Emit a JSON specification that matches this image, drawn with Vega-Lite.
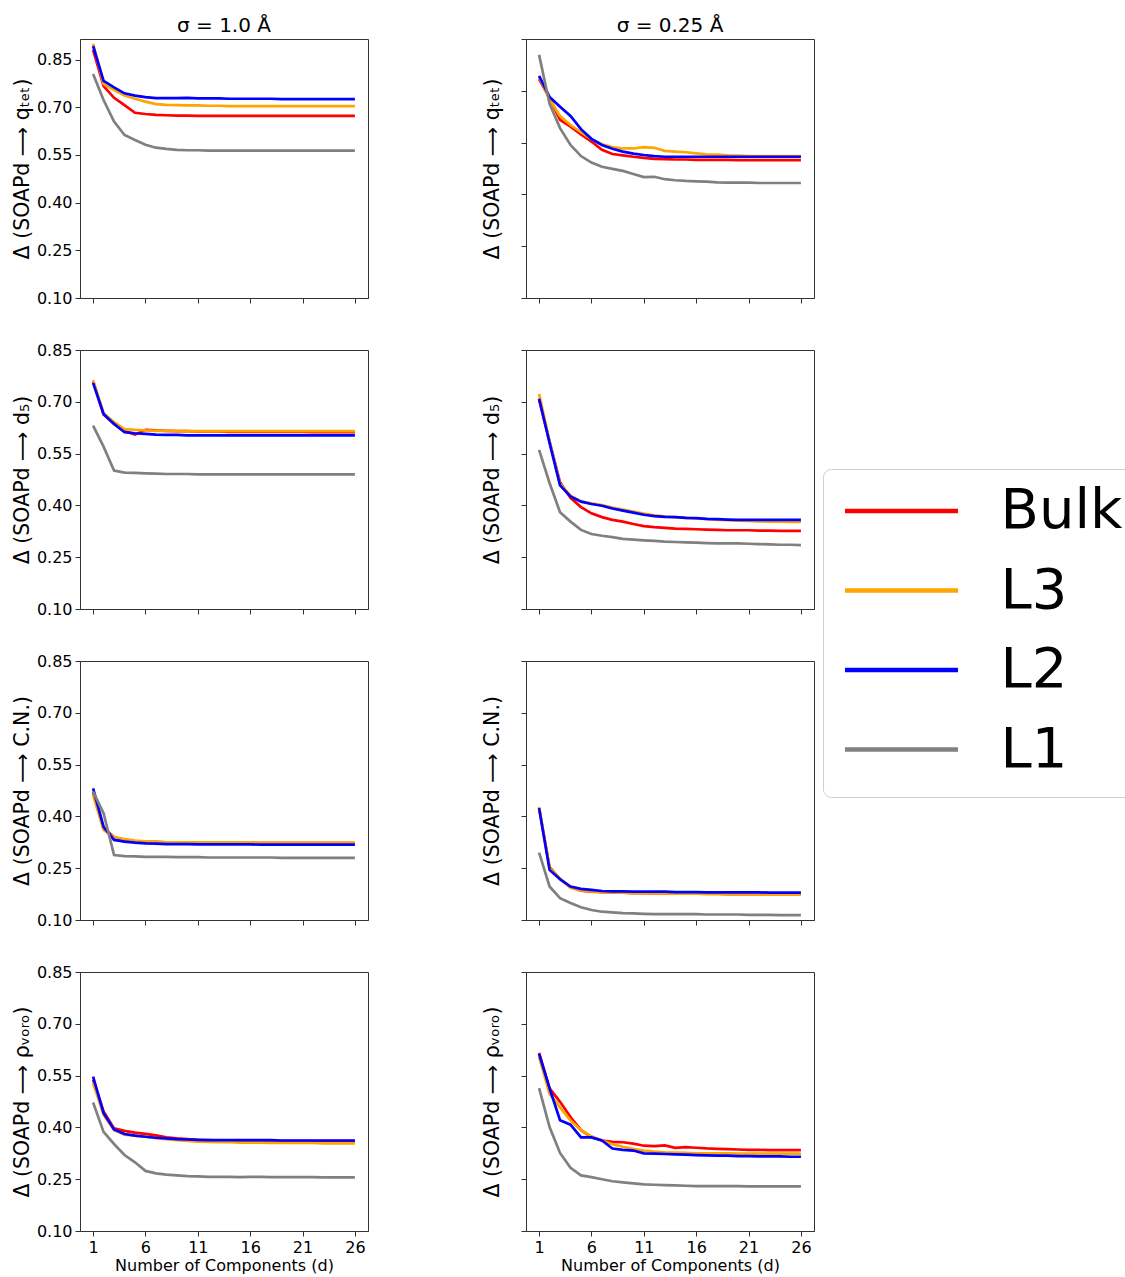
{
"$schema":"https://vega.github.io/schema/vega-lite/v6.json",
"padding":{"left":11,"top":15,"right":0,"bottom":5},
"background":"white",
"config":{
 "font":"DejaVu Sans",
 "view":{"stroke":"#333","strokeWidth":1},
 "axis":{"domainColor":"#333","tickColor":"#333","tickSize":5,"labelFontSize":16,"titleFontSize":20.5,"labelFont":"DejaVu Sans","titleFont":"DejaVu Sans","titleFontWeight":"normal","labelColor":"#000","titleColor":"#000","grid":false,"labelPadding":3},
 "title":{"fontSize":20,"fontWeight":"normal","font":"DejaVu Sans","color":"#000","offset":3},
 "legend":{"orient":"none","legendX":743,"legendY":430,"symbolType":"stroke","symbolSize":12769,"symbolStrokeWidth":4.5,"labelFontSize":56,"labelFont":"DejaVu Sans","labelColor":"#000","labelOffset":40,"clipHeight":45,"rowPadding":22.5,"padding":19.5,"strokeColor":"#d0d0d0","fillColor":"white","cornerRadius":8,"labelLimit":0}
},
"data":{"values":[
{"p":"A","d":1,"Bulk":0.881,"L3":0.900,"L2":0.893,"L1":0.805},
{"p":"A","d":2,"Bulk":0.767,"L3":0.773,"L2":0.783,"L1":0.723},
{"p":"A","d":3,"Bulk":0.730,"L3":0.755,"L2":0.763,"L1":0.655},
{"p":"A","d":4,"Bulk":0.707,"L3":0.737,"L2":0.744,"L1":0.613},
{"p":"A","d":5,"Bulk":0.683,"L3":0.727,"L2":0.737,"L1":0.597},
{"p":"A","d":6,"Bulk":0.679,"L3":0.718,"L2":0.732,"L1":0.582},
{"p":"A","d":7,"Bulk":0.676,"L3":0.710,"L2":0.729,"L1":0.573},
{"p":"A","d":8,"Bulk":0.675,"L3":0.708,"L2":0.729,"L1":0.569},
{"p":"A","d":9,"Bulk":0.674,"L3":0.707,"L2":0.729,"L1":0.566},
{"p":"A","d":10,"Bulk":0.674,"L3":0.706,"L2":0.730,"L1":0.565},
{"p":"A","d":11,"Bulk":0.673,"L3":0.706,"L2":0.728,"L1":0.565},
{"p":"A","d":12,"Bulk":0.673,"L3":0.705,"L2":0.728,"L1":0.564},
{"p":"A","d":13,"Bulk":0.673,"L3":0.705,"L2":0.728,"L1":0.564},
{"p":"A","d":14,"Bulk":0.673,"L3":0.704,"L2":0.727,"L1":0.564},
{"p":"A","d":15,"Bulk":0.673,"L3":0.704,"L2":0.727,"L1":0.564},
{"p":"A","d":16,"Bulk":0.673,"L3":0.704,"L2":0.727,"L1":0.564},
{"p":"A","d":17,"Bulk":0.673,"L3":0.704,"L2":0.727,"L1":0.564},
{"p":"A","d":18,"Bulk":0.673,"L3":0.704,"L2":0.727,"L1":0.564},
{"p":"A","d":19,"Bulk":0.673,"L3":0.704,"L2":0.726,"L1":0.564},
{"p":"A","d":20,"Bulk":0.673,"L3":0.704,"L2":0.726,"L1":0.564},
{"p":"A","d":21,"Bulk":0.673,"L3":0.704,"L2":0.726,"L1":0.564},
{"p":"A","d":22,"Bulk":0.673,"L3":0.704,"L2":0.726,"L1":0.564},
{"p":"A","d":23,"Bulk":0.673,"L3":0.704,"L2":0.726,"L1":0.564},
{"p":"A","d":24,"Bulk":0.673,"L3":0.704,"L2":0.726,"L1":0.564},
{"p":"A","d":25,"Bulk":0.673,"L3":0.704,"L2":0.726,"L1":0.564},
{"p":"A","d":26,"Bulk":0.673,"L3":0.704,"L2":0.726,"L1":0.564},
{"p":"B","d":1,"Bulk":0.734,"L3":0.740,"L2":0.743,"L1":0.804},
{"p":"B","d":2,"Bulk":0.679,"L3":0.676,"L2":0.682,"L1":0.662},
{"p":"B","d":3,"Bulk":0.616,"L3":0.627,"L2":0.654,"L1":0.592},
{"p":"B","d":4,"Bulk":0.596,"L3":0.601,"L2":0.627,"L1":0.543},
{"p":"B","d":5,"Bulk":0.574,"L3":0.580,"L2":0.589,"L1":0.511},
{"p":"B","d":6,"Bulk":0.553,"L3":0.560,"L2":0.561,"L1":0.492},
{"p":"B","d":7,"Bulk":0.529,"L3":0.545,"L2":0.543,"L1":0.480},
{"p":"B","d":8,"Bulk":0.517,"L3":0.537,"L2":0.532,"L1":0.474},
{"p":"B","d":9,"Bulk":0.513,"L3":0.533,"L2":0.524,"L1":0.468},
{"p":"B","d":10,"Bulk":0.509,"L3":0.533,"L2":0.518,"L1":0.459},
{"p":"B","d":11,"Bulk":0.506,"L3":0.537,"L2":0.514,"L1":0.450},
{"p":"B","d":12,"Bulk":0.503,"L3":0.535,"L2":0.511,"L1":0.451},
{"p":"B","d":13,"Bulk":0.502,"L3":0.526,"L2":0.509,"L1":0.444},
{"p":"B","d":14,"Bulk":0.501,"L3":0.524,"L2":0.509,"L1":0.441},
{"p":"B","d":15,"Bulk":0.501,"L3":0.522,"L2":0.509,"L1":0.439},
{"p":"B","d":16,"Bulk":0.500,"L3":0.519,"L2":0.509,"L1":0.438},
{"p":"B","d":17,"Bulk":0.500,"L3":0.516,"L2":0.509,"L1":0.437},
{"p":"B","d":18,"Bulk":0.500,"L3":0.515,"L2":0.509,"L1":0.435},
{"p":"B","d":19,"Bulk":0.500,"L3":0.513,"L2":0.509,"L1":0.434},
{"p":"B","d":20,"Bulk":0.499,"L3":0.512,"L2":0.509,"L1":0.434},
{"p":"B","d":21,"Bulk":0.499,"L3":0.511,"L2":0.509,"L1":0.434},
{"p":"B","d":22,"Bulk":0.499,"L3":0.511,"L2":0.509,"L1":0.433},
{"p":"B","d":23,"Bulk":0.499,"L3":0.511,"L2":0.509,"L1":0.433},
{"p":"B","d":24,"Bulk":0.499,"L3":0.511,"L2":0.509,"L1":0.433},
{"p":"B","d":25,"Bulk":0.499,"L3":0.511,"L2":0.509,"L1":0.433},
{"p":"B","d":26,"Bulk":0.499,"L3":0.511,"L2":0.509,"L1":0.433},
{"p":"C","d":1,"Bulk":0.759,"L3":0.763,"L2":0.755,"L1":0.631},
{"p":"C","d":2,"Bulk":0.663,"L3":0.667,"L2":0.665,"L1":0.570},
{"p":"C","d":3,"Bulk":0.636,"L3":0.641,"L2":0.636,"L1":0.501},
{"p":"C","d":4,"Bulk":0.615,"L3":0.621,"L2":0.612,"L1":0.495},
{"p":"C","d":5,"Bulk":0.605,"L3":0.619,"L2":0.609,"L1":0.494},
{"p":"C","d":6,"Bulk":0.619,"L3":0.617,"L2":0.607,"L1":0.493},
{"p":"C","d":7,"Bulk":0.617,"L3":0.616,"L2":0.605,"L1":0.492},
{"p":"C","d":8,"Bulk":0.616,"L3":0.616,"L2":0.604,"L1":0.491},
{"p":"C","d":9,"Bulk":0.615,"L3":0.615,"L2":0.604,"L1":0.491},
{"p":"C","d":10,"Bulk":0.615,"L3":0.615,"L2":0.603,"L1":0.491},
{"p":"C","d":11,"Bulk":0.614,"L3":0.615,"L2":0.603,"L1":0.490},
{"p":"C","d":12,"Bulk":0.614,"L3":0.615,"L2":0.603,"L1":0.490},
{"p":"C","d":13,"Bulk":0.614,"L3":0.615,"L2":0.603,"L1":0.490},
{"p":"C","d":14,"Bulk":0.613,"L3":0.615,"L2":0.603,"L1":0.490},
{"p":"C","d":15,"Bulk":0.613,"L3":0.615,"L2":0.603,"L1":0.490},
{"p":"C","d":16,"Bulk":0.613,"L3":0.615,"L2":0.603,"L1":0.490},
{"p":"C","d":17,"Bulk":0.613,"L3":0.615,"L2":0.603,"L1":0.490},
{"p":"C","d":18,"Bulk":0.613,"L3":0.615,"L2":0.603,"L1":0.490},
{"p":"C","d":19,"Bulk":0.613,"L3":0.615,"L2":0.603,"L1":0.490},
{"p":"C","d":20,"Bulk":0.613,"L3":0.615,"L2":0.603,"L1":0.490},
{"p":"C","d":21,"Bulk":0.613,"L3":0.615,"L2":0.603,"L1":0.490},
{"p":"C","d":22,"Bulk":0.612,"L3":0.615,"L2":0.603,"L1":0.490},
{"p":"C","d":23,"Bulk":0.612,"L3":0.615,"L2":0.603,"L1":0.490},
{"p":"C","d":24,"Bulk":0.612,"L3":0.615,"L2":0.603,"L1":0.490},
{"p":"C","d":25,"Bulk":0.612,"L3":0.615,"L2":0.603,"L1":0.490},
{"p":"C","d":26,"Bulk":0.612,"L3":0.615,"L2":0.603,"L1":0.490},
{"p":"D","d":1,"Bulk":0.707,"L3":0.723,"L2":0.709,"L1":0.561},
{"p":"D","d":2,"Bulk":0.585,"L3":0.586,"L2":0.581,"L1":0.465},
{"p":"D","d":3,"Bulk":0.467,"L3":0.462,"L2":0.458,"L1":0.380},
{"p":"D","d":4,"Bulk":0.422,"L3":0.428,"L2":0.426,"L1":0.353},
{"p":"D","d":5,"Bulk":0.395,"L3":0.412,"L2":0.411,"L1":0.329},
{"p":"D","d":6,"Bulk":0.377,"L3":0.406,"L2":0.404,"L1":0.317},
{"p":"D","d":7,"Bulk":0.366,"L3":0.401,"L2":0.399,"L1":0.312},
{"p":"D","d":8,"Bulk":0.358,"L3":0.394,"L2":0.391,"L1":0.308},
{"p":"D","d":9,"Bulk":0.353,"L3":0.388,"L2":0.385,"L1":0.303},
{"p":"D","d":10,"Bulk":0.346,"L3":0.382,"L2":0.379,"L1":0.301},
{"p":"D","d":11,"Bulk":0.340,"L3":0.376,"L2":0.373,"L1":0.299},
{"p":"D","d":12,"Bulk":0.337,"L3":0.371,"L2":0.369,"L1":0.297},
{"p":"D","d":13,"Bulk":0.335,"L3":0.368,"L2":0.367,"L1":0.295},
{"p":"D","d":14,"Bulk":0.333,"L3":0.366,"L2":0.366,"L1":0.294},
{"p":"D","d":15,"Bulk":0.332,"L3":0.364,"L2":0.364,"L1":0.293},
{"p":"D","d":16,"Bulk":0.331,"L3":0.362,"L2":0.363,"L1":0.292},
{"p":"D","d":17,"Bulk":0.330,"L3":0.360,"L2":0.361,"L1":0.291},
{"p":"D","d":18,"Bulk":0.329,"L3":0.358,"L2":0.360,"L1":0.290},
{"p":"D","d":19,"Bulk":0.328,"L3":0.357,"L2":0.359,"L1":0.290},
{"p":"D","d":20,"Bulk":0.328,"L3":0.356,"L2":0.358,"L1":0.290},
{"p":"D","d":21,"Bulk":0.328,"L3":0.355,"L2":0.358,"L1":0.289},
{"p":"D","d":22,"Bulk":0.327,"L3":0.354,"L2":0.358,"L1":0.288},
{"p":"D","d":23,"Bulk":0.327,"L3":0.353,"L2":0.358,"L1":0.287},
{"p":"D","d":24,"Bulk":0.326,"L3":0.353,"L2":0.358,"L1":0.286},
{"p":"D","d":25,"Bulk":0.326,"L3":0.352,"L2":0.358,"L1":0.286},
{"p":"D","d":26,"Bulk":0.326,"L3":0.352,"L2":0.358,"L1":0.285},
{"p":"E","d":1,"Bulk":0.470,"L3":0.462,"L2":0.481,"L1":0.472},
{"p":"E","d":2,"Bulk":0.366,"L3":0.361,"L2":0.370,"L1":0.409},
{"p":"E","d":3,"Bulk":0.340,"L3":0.340,"L2":0.332,"L1":0.288},
{"p":"E","d":4,"Bulk":0.331,"L3":0.334,"L2":0.327,"L1":0.285},
{"p":"E","d":5,"Bulk":0.328,"L3":0.330,"L2":0.324,"L1":0.284},
{"p":"E","d":6,"Bulk":0.326,"L3":0.328,"L2":0.322,"L1":0.283},
{"p":"E","d":7,"Bulk":0.326,"L3":0.326,"L2":0.321,"L1":0.283},
{"p":"E","d":8,"Bulk":0.325,"L3":0.325,"L2":0.320,"L1":0.283},
{"p":"E","d":9,"Bulk":0.325,"L3":0.325,"L2":0.320,"L1":0.282},
{"p":"E","d":10,"Bulk":0.325,"L3":0.325,"L2":0.320,"L1":0.282},
{"p":"E","d":11,"Bulk":0.324,"L3":0.325,"L2":0.319,"L1":0.282},
{"p":"E","d":12,"Bulk":0.324,"L3":0.325,"L2":0.319,"L1":0.281},
{"p":"E","d":13,"Bulk":0.324,"L3":0.325,"L2":0.319,"L1":0.281},
{"p":"E","d":14,"Bulk":0.324,"L3":0.325,"L2":0.319,"L1":0.281},
{"p":"E","d":15,"Bulk":0.324,"L3":0.325,"L2":0.319,"L1":0.281},
{"p":"E","d":16,"Bulk":0.324,"L3":0.325,"L2":0.319,"L1":0.281},
{"p":"E","d":17,"Bulk":0.323,"L3":0.324,"L2":0.318,"L1":0.281},
{"p":"E","d":18,"Bulk":0.323,"L3":0.324,"L2":0.318,"L1":0.281},
{"p":"E","d":19,"Bulk":0.323,"L3":0.324,"L2":0.318,"L1":0.280},
{"p":"E","d":20,"Bulk":0.323,"L3":0.324,"L2":0.318,"L1":0.280},
{"p":"E","d":21,"Bulk":0.323,"L3":0.324,"L2":0.318,"L1":0.280},
{"p":"E","d":22,"Bulk":0.323,"L3":0.324,"L2":0.318,"L1":0.280},
{"p":"E","d":23,"Bulk":0.323,"L3":0.324,"L2":0.318,"L1":0.280},
{"p":"E","d":24,"Bulk":0.323,"L3":0.324,"L2":0.318,"L1":0.280},
{"p":"E","d":25,"Bulk":0.323,"L3":0.324,"L2":0.318,"L1":0.280},
{"p":"E","d":26,"Bulk":0.323,"L3":0.324,"L2":0.318,"L1":0.280},
{"p":"F","d":1,"Bulk":0.424,"L3":0.427,"L2":0.424,"L1":0.295},
{"p":"F","d":2,"Bulk":0.253,"L3":0.251,"L2":0.245,"L1":0.197},
{"p":"F","d":3,"Bulk":0.219,"L3":0.219,"L2":0.218,"L1":0.163},
{"p":"F","d":4,"Bulk":0.195,"L3":0.193,"L2":0.197,"L1":0.149},
{"p":"F","d":5,"Bulk":0.185,"L3":0.186,"L2":0.190,"L1":0.137},
{"p":"F","d":6,"Bulk":0.182,"L3":0.183,"L2":0.187,"L1":0.129},
{"p":"F","d":7,"Bulk":0.181,"L3":0.181,"L2":0.184,"L1":0.124},
{"p":"F","d":8,"Bulk":0.180,"L3":0.180,"L2":0.183,"L1":0.122},
{"p":"F","d":9,"Bulk":0.179,"L3":0.179,"L2":0.183,"L1":0.120},
{"p":"F","d":10,"Bulk":0.178,"L3":0.178,"L2":0.182,"L1":0.119},
{"p":"F","d":11,"Bulk":0.178,"L3":0.178,"L2":0.182,"L1":0.118},
{"p":"F","d":12,"Bulk":0.177,"L3":0.177,"L2":0.182,"L1":0.117},
{"p":"F","d":13,"Bulk":0.177,"L3":0.177,"L2":0.182,"L1":0.117},
{"p":"F","d":14,"Bulk":0.177,"L3":0.176,"L2":0.181,"L1":0.117},
{"p":"F","d":15,"Bulk":0.176,"L3":0.176,"L2":0.181,"L1":0.117},
{"p":"F","d":16,"Bulk":0.176,"L3":0.176,"L2":0.181,"L1":0.117},
{"p":"F","d":17,"Bulk":0.176,"L3":0.175,"L2":0.180,"L1":0.116},
{"p":"F","d":18,"Bulk":0.176,"L3":0.175,"L2":0.180,"L1":0.116},
{"p":"F","d":19,"Bulk":0.175,"L3":0.175,"L2":0.180,"L1":0.116},
{"p":"F","d":20,"Bulk":0.175,"L3":0.175,"L2":0.180,"L1":0.116},
{"p":"F","d":21,"Bulk":0.175,"L3":0.175,"L2":0.180,"L1":0.115},
{"p":"F","d":22,"Bulk":0.175,"L3":0.174,"L2":0.180,"L1":0.115},
{"p":"F","d":23,"Bulk":0.175,"L3":0.174,"L2":0.179,"L1":0.115},
{"p":"F","d":24,"Bulk":0.175,"L3":0.174,"L2":0.179,"L1":0.114},
{"p":"F","d":25,"Bulk":0.175,"L3":0.174,"L2":0.179,"L1":0.114},
{"p":"F","d":26,"Bulk":0.175,"L3":0.174,"L2":0.179,"L1":0.114},
{"p":"G","d":1,"Bulk":0.538,"L3":0.528,"L2":0.547,"L1":0.472},
{"p":"G","d":2,"Bulk":0.446,"L3":0.437,"L2":0.441,"L1":0.387},
{"p":"G","d":3,"Bulk":0.397,"L3":0.392,"L2":0.394,"L1":0.352},
{"p":"G","d":4,"Bulk":0.390,"L3":0.379,"L2":0.381,"L1":0.320},
{"p":"G","d":5,"Bulk":0.385,"L3":0.376,"L2":0.376,"L1":0.299},
{"p":"G","d":6,"Bulk":0.381,"L3":0.373,"L2":0.373,"L1":0.274},
{"p":"G","d":7,"Bulk":0.377,"L3":0.369,"L2":0.370,"L1":0.267},
{"p":"G","d":8,"Bulk":0.371,"L3":0.366,"L2":0.368,"L1":0.263},
{"p":"G","d":9,"Bulk":0.368,"L3":0.363,"L2":0.366,"L1":0.261},
{"p":"G","d":10,"Bulk":0.366,"L3":0.361,"L2":0.365,"L1":0.259},
{"p":"G","d":11,"Bulk":0.364,"L3":0.359,"L2":0.364,"L1":0.258},
{"p":"G","d":12,"Bulk":0.363,"L3":0.358,"L2":0.363,"L1":0.257},
{"p":"G","d":13,"Bulk":0.362,"L3":0.357,"L2":0.363,"L1":0.257},
{"p":"G","d":14,"Bulk":0.362,"L3":0.357,"L2":0.363,"L1":0.257},
{"p":"G","d":15,"Bulk":0.361,"L3":0.356,"L2":0.363,"L1":0.256},
{"p":"G","d":16,"Bulk":0.361,"L3":0.356,"L2":0.363,"L1":0.257},
{"p":"G","d":17,"Bulk":0.361,"L3":0.356,"L2":0.363,"L1":0.257},
{"p":"G","d":18,"Bulk":0.361,"L3":0.355,"L2":0.363,"L1":0.256},
{"p":"G","d":19,"Bulk":0.360,"L3":0.355,"L2":0.362,"L1":0.256},
{"p":"G","d":20,"Bulk":0.360,"L3":0.355,"L2":0.362,"L1":0.256},
{"p":"G","d":21,"Bulk":0.360,"L3":0.355,"L2":0.362,"L1":0.256},
{"p":"G","d":22,"Bulk":0.360,"L3":0.355,"L2":0.362,"L1":0.256},
{"p":"G","d":23,"Bulk":0.360,"L3":0.354,"L2":0.362,"L1":0.255},
{"p":"G","d":24,"Bulk":0.360,"L3":0.354,"L2":0.362,"L1":0.255},
{"p":"G","d":25,"Bulk":0.360,"L3":0.354,"L2":0.362,"L1":0.255},
{"p":"G","d":26,"Bulk":0.360,"L3":0.354,"L2":0.362,"L1":0.255},
{"p":"H","d":1,"Bulk":0.616,"L3":0.604,"L2":0.613,"L1":0.514},
{"p":"H","d":2,"Bulk":0.513,"L3":0.497,"L2":0.513,"L1":0.401},
{"p":"H","d":3,"Bulk":0.474,"L3":0.458,"L2":0.421,"L1":0.326},
{"p":"H","d":4,"Bulk":0.430,"L3":0.420,"L2":0.408,"L1":0.283},
{"p":"H","d":5,"Bulk":0.392,"L3":0.392,"L2":0.371,"L1":0.261},
{"p":"H","d":6,"Bulk":0.372,"L3":0.374,"L2":0.371,"L1":0.256},
{"p":"H","d":7,"Bulk":0.362,"L3":0.362,"L2":0.362,"L1":0.250},
{"p":"H","d":8,"Bulk":0.358,"L3":0.351,"L2":0.339,"L1":0.244},
{"p":"H","d":9,"Bulk":0.357,"L3":0.344,"L2":0.335,"L1":0.241},
{"p":"H","d":10,"Bulk":0.353,"L3":0.338,"L2":0.333,"L1":0.238},
{"p":"H","d":11,"Bulk":0.347,"L3":0.333,"L2":0.325,"L1":0.235},
{"p":"H","d":12,"Bulk":0.346,"L3":0.330,"L2":0.324,"L1":0.234},
{"p":"H","d":13,"Bulk":0.348,"L3":0.328,"L2":0.323,"L1":0.233},
{"p":"H","d":14,"Bulk":0.341,"L3":0.327,"L2":0.322,"L1":0.232},
{"p":"H","d":15,"Bulk":0.343,"L3":0.326,"L2":0.321,"L1":0.231},
{"p":"H","d":16,"Bulk":0.341,"L3":0.325,"L2":0.320,"L1":0.230},
{"p":"H","d":17,"Bulk":0.339,"L3":0.325,"L2":0.319,"L1":0.230},
{"p":"H","d":18,"Bulk":0.338,"L3":0.325,"L2":0.318,"L1":0.230},
{"p":"H","d":19,"Bulk":0.337,"L3":0.325,"L2":0.318,"L1":0.230},
{"p":"H","d":20,"Bulk":0.336,"L3":0.324,"L2":0.317,"L1":0.230},
{"p":"H","d":21,"Bulk":0.335,"L3":0.324,"L2":0.317,"L1":0.229},
{"p":"H","d":22,"Bulk":0.335,"L3":0.324,"L2":0.316,"L1":0.229},
{"p":"H","d":23,"Bulk":0.334,"L3":0.324,"L2":0.316,"L1":0.229},
{"p":"H","d":24,"Bulk":0.334,"L3":0.324,"L2":0.316,"L1":0.229},
{"p":"H","d":25,"Bulk":0.334,"L3":0.324,"L2":0.315,"L1":0.229},
{"p":"H","d":26,"Bulk":0.334,"L3":0.324,"L2":0.315,"L1":0.229}
]},
"columns":2,
"spacing":{"row":52,"column":158},
"bounds":"flush",
"concat":[
{"width":288,"height":259,"title":{"text":"σ = 1.0 Å"},
 "transform":[{"filter":"datum.p==='A'"},{"fold":["Bulk","L3","L2","L1"],"as":["series","value"]}],
 "mark":{"type":"line","strokeWidth":2.7,"clip":true},
 "encoding":{
  "x":{"field":"d","type":"quantitative","scale":{"domain":[-0.25,27.25],"nice":false,"zero":false},"axis":{"values":[1,6,11,16,21,26],"labels":false,"title":null}},
  "y":{"field":"value","type":"quantitative","scale":{"domain":[0.1,0.915],"nice":false,"zero":false},"axis":{"values":[0.1,0.25,0.4,0.55,0.7,0.85],"format":".2f","title":"Δ (SOAPd  ⟶  qₜₑₜ)","titlePadding":4}},
  "color":{"field":"series","type":"nominal","scale":{"domain":["Bulk","L3","L2","L1"],"range":["#ff0000","#ffa500","#0000ff","#808080"]},"title":null}}},
{"width":288,"height":259,"title":{"text":"σ = 0.25 Å"},
 "transform":[{"filter":"datum.p==='B'"},{"fold":["Bulk","L3","L2","L1"],"as":["series","value"]}],
 "mark":{"type":"line","strokeWidth":2.7,"clip":true},
 "encoding":{
  "x":{"field":"d","type":"quantitative","scale":{"domain":[-0.25,27.25],"nice":false,"zero":false},"axis":{"values":[1,6,11,16,21,26],"labels":false,"title":null}},
  "y":{"field":"value","type":"quantitative","scale":{"domain":[0.1,0.85],"nice":false,"zero":false},"axis":{"values":[0.1,0.25,0.4,0.55,0.7,0.85],"labels":false,"title":"Δ (SOAPd  ⟶  qₜₑₜ)","titlePadding":18}},
  "color":{"field":"series","type":"nominal","scale":{"domain":["Bulk","L3","L2","L1"],"range":["#ff0000","#ffa500","#0000ff","#808080"]},"title":null}}},
{"width":288,"height":259,
 "transform":[{"filter":"datum.p==='C'"},{"fold":["Bulk","L3","L2","L1"],"as":["series","value"]}],
 "mark":{"type":"line","strokeWidth":2.7,"clip":true},
 "encoding":{
  "x":{"field":"d","type":"quantitative","scale":{"domain":[-0.25,27.25],"nice":false,"zero":false},"axis":{"values":[1,6,11,16,21,26],"labels":false,"title":null}},
  "y":{"field":"value","type":"quantitative","scale":{"domain":[0.1,0.85],"nice":false,"zero":false},"axis":{"values":[0.1,0.25,0.4,0.55,0.7,0.85],"format":".2f","title":"Δ (SOAPd  ⟶  d₅)","titlePadding":4}},
  "color":{"field":"series","type":"nominal","scale":{"domain":["Bulk","L3","L2","L1"],"range":["#ff0000","#ffa500","#0000ff","#808080"]},"title":null}}},
{"width":288,"height":259,
 "transform":[{"filter":"datum.p==='D'"},{"fold":["Bulk","L3","L2","L1"],"as":["series","value"]}],
 "mark":{"type":"line","strokeWidth":2.7,"clip":true},
 "encoding":{
  "x":{"field":"d","type":"quantitative","scale":{"domain":[-0.25,27.25],"nice":false,"zero":false},"axis":{"values":[1,6,11,16,21,26],"labels":false,"title":null}},
  "y":{"field":"value","type":"quantitative","scale":{"domain":[0.1,0.85],"nice":false,"zero":false},"axis":{"values":[0.1,0.25,0.4,0.55,0.7,0.85],"labels":false,"title":"Δ (SOAPd  ⟶  d₅)","titlePadding":18}},
  "color":{"field":"series","type":"nominal","scale":{"domain":["Bulk","L3","L2","L1"],"range":["#ff0000","#ffa500","#0000ff","#808080"]},"title":null}}},
{"width":288,"height":259,
 "transform":[{"filter":"datum.p==='E'"},{"fold":["Bulk","L3","L2","L1"],"as":["series","value"]}],
 "mark":{"type":"line","strokeWidth":2.7,"clip":true},
 "encoding":{
  "x":{"field":"d","type":"quantitative","scale":{"domain":[-0.25,27.25],"nice":false,"zero":false},"axis":{"values":[1,6,11,16,21,26],"labels":false,"title":null}},
  "y":{"field":"value","type":"quantitative","scale":{"domain":[0.1,0.85],"nice":false,"zero":false},"axis":{"values":[0.1,0.25,0.4,0.55,0.7,0.85],"format":".2f","title":"Δ (SOAPd  ⟶  C.N.)","titlePadding":4}},
  "color":{"field":"series","type":"nominal","scale":{"domain":["Bulk","L3","L2","L1"],"range":["#ff0000","#ffa500","#0000ff","#808080"]},"title":null}}},
{"width":288,"height":259,
 "transform":[{"filter":"datum.p==='F'"},{"fold":["Bulk","L3","L2","L1"],"as":["series","value"]}],
 "mark":{"type":"line","strokeWidth":2.7,"clip":true},
 "encoding":{
  "x":{"field":"d","type":"quantitative","scale":{"domain":[-0.25,27.25],"nice":false,"zero":false},"axis":{"values":[1,6,11,16,21,26],"labels":false,"title":null}},
  "y":{"field":"value","type":"quantitative","scale":{"domain":[0.1,0.85],"nice":false,"zero":false},"axis":{"values":[0.1,0.25,0.4,0.55,0.7,0.85],"labels":false,"title":"Δ (SOAPd  ⟶  C.N.)","titlePadding":18}},
  "color":{"field":"series","type":"nominal","scale":{"domain":["Bulk","L3","L2","L1"],"range":["#ff0000","#ffa500","#0000ff","#808080"]},"title":null}}},
{"width":288,"height":259,
 "transform":[{"filter":"datum.p==='G'"},{"fold":["Bulk","L3","L2","L1"],"as":["series","value"]}],
 "mark":{"type":"line","strokeWidth":2.7,"clip":true},
 "encoding":{
  "x":{"field":"d","type":"quantitative","scale":{"domain":[-0.25,27.25],"nice":false,"zero":false},"axis":{"values":[1,6,11,16,21,26],"format":"d","title":"Number of Components (d)","titleFontSize":16,"titlePadding":2}},
  "y":{"field":"value","type":"quantitative","scale":{"domain":[0.1,0.85],"nice":false,"zero":false},"axis":{"values":[0.1,0.25,0.4,0.55,0.7,0.85],"format":".2f","title":"Δ (SOAPd  ⟶  ρᵥₒᵣₒ)","titlePadding":4}},
  "color":{"field":"series","type":"nominal","scale":{"domain":["Bulk","L3","L2","L1"],"range":["#ff0000","#ffa500","#0000ff","#808080"]},"title":null}}},
{"width":288,"height":259,
 "transform":[{"filter":"datum.p==='H'"},{"fold":["Bulk","L3","L2","L1"],"as":["series","value"]}],
 "mark":{"type":"line","strokeWidth":2.7,"clip":true},
 "encoding":{
  "x":{"field":"d","type":"quantitative","scale":{"domain":[-0.25,27.25],"nice":false,"zero":false},"axis":{"values":[1,6,11,16,21,26],"format":"d","title":"Number of Components (d)","titleFontSize":16,"titlePadding":2}},
  "y":{"field":"value","type":"quantitative","scale":{"domain":[0.1,0.85],"nice":false,"zero":false},"axis":{"values":[0.1,0.25,0.4,0.55,0.7,0.85],"labels":false,"title":"Δ (SOAPd  ⟶  ρᵥₒᵣₒ)","titlePadding":18}},
  "color":{"field":"series","type":"nominal","scale":{"domain":["Bulk","L3","L2","L1"],"range":["#ff0000","#ffa500","#0000ff","#808080"]},"title":null}}}
]
}
